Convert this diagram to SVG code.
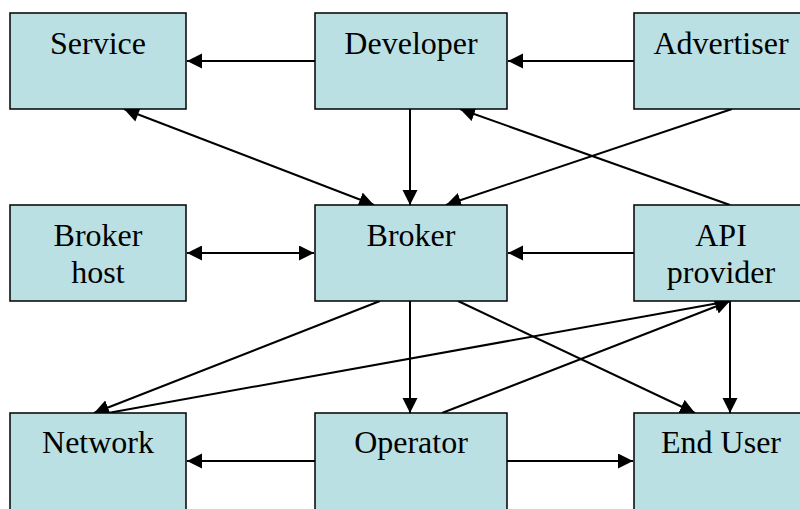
<svg xmlns="http://www.w3.org/2000/svg" width="800" height="509" viewBox="0 0 800 509">
  <style>
    .box { fill: #BBE0E3; stroke: #000; stroke-width: 1.5; }
    .lbl { font-family: "Liberation Serif", "Times New Roman", serif; font-size: 32px; fill: #000; text-anchor: middle; }
    .edge { stroke: #000; stroke-width: 2; fill: none; }
    .fwd { marker-end: url(#arrow); }
    .both { marker-start: url(#arrowStart); marker-end: url(#arrow); }
  </style>
  <defs>
    <marker id="arrow" markerUnits="userSpaceOnUse" markerWidth="16" markerHeight="16" viewBox="0 0 16 16" refX="15" refY="7.5" orient="auto">
      <path d="M0,0 L15,7.5 L0,15 z" fill="#000"/>
    </marker>
    <marker id="arrowStart" markerUnits="userSpaceOnUse" markerWidth="16" markerHeight="16" viewBox="0 0 16 16" refX="0" refY="7.5" orient="auto">
      <path d="M15,0 L0,7.5 L15,15 z" fill="#000"/>
    </marker>
  </defs>
  <rect width="800" height="509" fill="#fff"/>

  <g id="connectors">
    <line class="edge fwd" x1="315" y1="61" x2="187" y2="61"/>
    <line class="edge fwd" x1="634" y1="61" x2="508" y2="61"/>
    <line class="edge both" x1="124" y1="109" x2="374" y2="205"/>
    <line class="edge fwd" x1="410" y1="109" x2="410" y2="205"/>
    <line class="edge fwd" x1="732" y1="109" x2="446" y2="205"/>
    <line class="edge fwd" x1="730" y1="205" x2="460" y2="109"/>
    <line class="edge both" x1="187" y1="253" x2="314" y2="253"/>
    <line class="edge fwd" x1="634" y1="253" x2="508" y2="253"/>
    <line class="edge fwd" x1="380" y1="301" x2="94" y2="413"/>
    <line class="edge fwd" x1="108" y1="413" x2="730" y2="301"/>
    <line class="edge fwd" x1="442" y1="413" x2="730" y2="301"/>
    <line class="edge fwd" x1="410" y1="301" x2="410" y2="413"/>
    <line class="edge fwd" x1="458" y1="301" x2="695" y2="413"/>
    <line class="edge fwd" x1="730" y1="301" x2="730" y2="413"/>
    <line class="edge fwd" x1="315" y1="461" x2="187" y2="461"/>
    <line class="edge fwd" x1="507" y1="461" x2="633" y2="461"/>
  </g>

  <g id="service">
    <rect class="box" x="10" y="13" width="176" height="96"/>
    <text class="lbl" x="98" y="54">Service</text>
  </g>
  <g id="developer">
    <rect class="box" x="315" y="13" width="192" height="96"/>
    <text class="lbl" x="411" y="54">Developer</text>
  </g>
  <g id="advertiser">
    <rect class="box" x="634" y="13" width="176" height="96"/>
    <text class="lbl" x="721" y="54">Advertiser</text>
  </g>
  <g id="broker-host">
    <rect class="box" x="10" y="205" width="176" height="96"/>
    <text class="lbl" x="98" y="246">Broker</text>
    <text class="lbl" x="98" y="283">host</text>
  </g>
  <g id="broker">
    <rect class="box" x="315" y="205" width="192" height="96"/>
    <text class="lbl" x="411" y="246">Broker</text>
  </g>
  <g id="api-provider">
    <rect class="box" x="634" y="205" width="176" height="96"/>
    <text class="lbl" x="721" y="246">API</text>
    <text class="lbl" x="721" y="283">provider</text>
  </g>
  <g id="network">
    <rect class="box" x="10" y="413" width="176" height="100"/>
    <text class="lbl" x="98" y="453">Network</text>
  </g>
  <g id="operator">
    <rect class="box" x="315" y="413" width="192" height="100"/>
    <text class="lbl" x="411" y="453">Operator</text>
  </g>
  <g id="end-user">
    <rect class="box" x="634" y="413" width="176" height="100"/>
    <text class="lbl" x="721" y="453">End User</text>
  </g>
</svg>
